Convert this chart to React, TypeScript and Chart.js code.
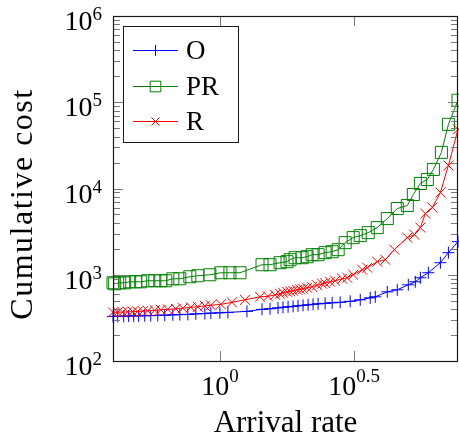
import React, { useEffect, useRef } from 'react';
import { Chart, registerables } from 'chart.js';

Chart.register(...registerables);

// ---- data ----
const seriesNames = ['O', 'PR', 'R'];
const seriesColors = ['#0000ff', 'rgb(0,128,0)', '#ff0000'];

const oX = [0.4, 0.4165, 0.4384, 0.4575, 0.4776, 0.4985, 0.5249, 0.5527, 0.587, 0.6233, 0.668, 0.7093, 0.7597, 0.8136, 0.879, 0.9256, 1.0, 1.071, 1.261, 1.435, 1.537, 1.646, 1.718, 1.794, 1.873, 1.954, 2.04, 2.13, 2.223, 2.321, 2.465, 2.618, 2.804, 3.056, 3.331, 3.629, 3.789, 4.2, 4.576, 5.029, 5.341, 5.577, 5.972, 6.622, 7.093, 7.7];
const oY = [329, 329, 331, 332, 334, 334, 335, 336, 338, 340, 343, 345, 347, 352, 355, 359, 362, 366, 376, 397, 403, 413, 419, 425, 430, 436, 442, 448, 454, 460, 466, 473, 479, 492, 512, 540, 555, 634, 669, 765, 829, 923, 1055, 1379, 1803, 2420];

const prX = [0.4, 0.4058, 0.4237, 0.4421, 0.4614, 0.4858, 0.5073, 0.5387, 0.5723, 0.6025, 0.6289, 0.668, 0.7093, 0.7728, 0.8278, 0.9177, 1.0086, 1.09, 1.188, 1.435, 1.537, 1.675, 1.778, 1.825, 1.905, 2.023, 2.112, 2.204, 2.321, 2.465, 2.618, 2.756, 2.927, 3.135, 3.331, 3.567, 3.853, 4.2, 4.576, 4.986, 5.25, 5.577, 5.92, 6.235, 6.679, 7.093, 7.7];
const prY = [807, 786, 807, 807, 829, 829, 829, 852, 852, 852, 852, 898, 898, 948, 974, 1000, 1055, 1055, 1055, 1307, 1307, 1379, 1417, 1494, 1576, 1576, 1619, 1708, 1708, 1803, 1851, 1953, 2356, 2693, 2841, 3078, 3520, 4479, 5855, 6343, 8517, 11434, 12728, 16630, 26220, 55500, 105500];

const rX = [0.4, 0.4165, 0.4346, 0.4537, 0.4735, 0.4943, 0.5162, 0.5387, 0.5723, 0.6025, 0.6397, 0.6851, 0.7279, 0.7795, 0.8278, 0.879, 0.9256, 1.0086, 1.109, 1.24, 1.41, 1.51, 1.604, 1.675, 1.718, 1.778, 1.825, 1.873, 1.938, 1.988, 2.04, 2.112, 2.204, 2.301, 2.402, 2.465, 2.573, 2.686, 2.853, 2.978, 3.135, 3.388, 3.536, 3.853, 4.128, 4.461, 4.986, 5.296, 5.577, 5.82, 6.18, 6.622, 7.093, 7.7];
const rY = [366, 368, 369, 371, 373, 375, 378, 382, 387, 392, 397, 403, 410, 419, 425, 436, 442, 454, 479, 512, 555, 562, 585, 601, 618, 634, 643, 652, 669, 678, 688, 706, 725, 755, 786, 797, 829, 852, 898, 923, 1000, 1143, 1206, 1417, 1494, 1953, 2693, 2918, 3520, 5121, 6013, 8984, 18510, 48500];

const xTickExps = ['0', '0.5'];
const yTickExps = ['2', '3', '4', '5', '6'];
const xRange = [0.4, 7.7];
const yRange = [100, 1e6];
const xTitle = 'Arrival rate';
const yTitle = 'Cumulative cost';

const SERIF = '"Liberation Serif", "Times New Roman", serif';

function drawMarker(ctx: CanvasRenderingContext2D, kind: string, x: number, y: number, s: number) {
  ctx.beginPath();
  if (kind === 'cross') {
    ctx.moveTo(x - s, y); ctx.lineTo(x + s, y);
    ctx.moveTo(x, y - s); ctx.lineTo(x, y + s);
  } else if (kind === 'rect') {
    ctx.rect(x - s, y - s, 2 * s, 2 * s);
  } else {
    ctx.moveTo(x - s, y - s); ctx.lineTo(x + s, y + s);
    ctx.moveTo(x + s, y - s); ctx.lineTo(x - s, y + s);
  }
  ctx.stroke();
}

const decorPlugin = {
  id: 'decor',
  afterDraw(chart: any) {
    const { ctx, chartArea } = chart;
    const { left, right, top, bottom } = chartArea;
    const xs = chart.scales.x;
    const ys = chart.scales.y;
    ctx.save();
    // tick marks (inside, mirrored)
    ctx.strokeStyle = '#7a7a7a';
    ctx.lineWidth = 1;
    const e0 = Math.round(Math.log10(yRange[0]));
    const e1 = Math.round(Math.log10(yRange[1]));
    for (let e = e0; e <= e1; e++) {
      for (let m = 1; m <= 9; m++) {
        const v = m * Math.pow(10, e);
        if (v > yRange[1] * 1.0001) break;
        const py = Math.round(ys.getPixelForValue(v)) + 0.5;
        const len = m === 1 ? 10 : 7;
        ctx.beginPath();
        ctx.moveTo(left, py); ctx.lineTo(left + len, py);
        ctx.moveTo(right, py); ctx.lineTo(right - len, py);
        ctx.stroke();
      }
    }
    xTickExps.forEach((ex) => {
      const px = Math.round(xs.getPixelForValue(Math.pow(10, parseFloat(ex)))) + 0.5;
      ctx.beginPath();
      ctx.moveTo(px, bottom); ctx.lineTo(px, bottom - 10);
      ctx.moveTo(px, top); ctx.lineTo(px, top + 10);
      ctx.stroke();
    });
    // frame
    ctx.strokeStyle = '#1a1a1a';
    ctx.lineWidth = 1.2;
    ctx.strokeRect(left + 0.5, top + 0.5, right - left - 1, bottom - top);

    // tick labels
    ctx.fillStyle = '#000';
    ctx.textBaseline = 'alphabetic';
    const baseFont = `28px ${SERIF}`;
    const supFont = `19px ${SERIF}`;
    yTickExps.forEach((ex) => {
      const py = ys.getPixelForValue(Math.pow(10, parseFloat(ex)));
      ctx.font = supFont;
      const ws = ctx.measureText(ex).width;
      ctx.font = baseFont;
      const wb = ctx.measureText('10').width;
      const rightEdge = left - 11;
      ctx.textAlign = 'left';
      ctx.fillText('10', rightEdge - ws - wb, py + 14);
      ctx.font = supFont;
      ctx.fillText(ex, rightEdge - ws, py + 4);
    });
    xTickExps.forEach((ex) => {
      const px = xs.getPixelForValue(Math.pow(10, parseFloat(ex)));
      ctx.font = supFont;
      const ws = ctx.measureText(ex).width;
      ctx.font = baseFont;
      const wb = ctx.measureText('10').width;
      const x0 = px - (ws + wb) / 2;
      ctx.textAlign = 'left';
      ctx.fillText('10', x0, bottom + 34);
      ctx.font = supFont;
      ctx.fillText(ex, x0 + wb, bottom + 21);
    });

    // axis titles
    ctx.font = `31px ${SERIF}`;
    ctx.textAlign = 'center';
    ctx.fillText(xTitle, (left + right) / 2, bottom + 71);
    ctx.save();
    ctx.font = `32px ${SERIF}`;
    (ctx as any).letterSpacing = '1.5px';
    ctx.translate(32, 204);
    ctx.rotate(-Math.PI / 2);
    ctx.fillText(yTitle, 0, 0);
    ctx.restore();

    // legend
    const lx = 123.5, ly = 26.5, lw = 115, lh = 116;
    ctx.fillStyle = '#fff';
    ctx.fillRect(lx, ly, lw, lh);
    ctx.strokeStyle = '#1a1a1a';
    ctx.lineWidth = 1;
    ctx.strokeRect(lx, ly, lw, lh);
    const rows = [50, 86, 121];
    const kinds = ['cross', 'rect', 'crossRot'];
    const sizes = [5.5, 5.3, 4];
    seriesNames.forEach((name, i) => {
      const yy = rows[i] + 0.5;
      ctx.strokeStyle = seriesColors[i];
      ctx.lineWidth = 1;
      ctx.beginPath();
      ctx.moveTo(133, yy); ctx.lineTo(178, yy);
      ctx.stroke();
      drawMarker(ctx, kinds[i], 155.5, yy, sizes[i]);
      ctx.fillStyle = '#000';
      ctx.font = `27px ${SERIF}`;
      ctx.textAlign = 'left';
      ctx.fillText(name, 186, rows[i] + 9);
    });
    ctx.restore();
  },
};

export default function App() {
  const ref = useRef<HTMLCanvasElement | null>(null);
  useEffect(() => {
    if (!ref.current) return;
    const mk = (xs: number[], ys: number[]) => xs.map((x, i) => ({ x, y: ys[i] }));
    const styles = [
      { pointStyle: 'cross', pointRadius: 6 },
      { pointStyle: 'rect', pointRadius: 8.5 },
      { pointStyle: 'crossRot', pointRadius: 7 },
    ];
    const datas = [mk(oX, oY), mk(prX, prY), mk(rX, rY)];
    const chart = new Chart(ref.current, {
      type: 'line',
      data: {
        datasets: seriesNames.map((name, i) => ({
          label: name,
          data: datas[i],
          borderColor: seriesColors[i],
          backgroundColor: 'rgba(0,0,0,0)',
          borderWidth: 1,
          pointStyle: styles[i].pointStyle as any,
          pointRadius: styles[i].pointRadius,
          pointBorderWidth: 1,
          pointBorderColor: seriesColors[i],
          pointBackgroundColor: 'rgba(0,0,0,0)',
          tension: 0,
          clip: false as any,
          order: 2 - i,
        })),
      },
      options: {
        responsive: false,
        animation: false,
        layout: { autoPadding: false, padding: { top: 16, right: 1, left: 0, bottom: 0 } },
        plugins: { legend: { display: false }, tooltip: { enabled: false } },
        scales: {
          x: {
            type: 'logarithmic',
            min: xRange[0],
            max: xRange[1],
            ticks: { display: false },
            grid: { display: false },
            border: { display: false },
            afterFit: (s: any) => { s.height = 78; },
          },
          y: {
            type: 'logarithmic',
            min: yRange[0],
            max: yRange[1],
            ticks: { display: false },
            grid: { display: false },
            border: { display: false },
            afterFit: (s: any) => { s.width = 113; },
          },
        },
      } as any,
      plugins: [decorPlugin],
    });
    return () => chart.destroy();
  }, []);
  return (
    <div style={{ position: 'absolute', left: 0, top: 0, width: 459, height: 439, background: '#fff' }}>
      <canvas ref={ref} width={459} height={439} style={{ display: 'block' }} />
    </div>
  );
}
